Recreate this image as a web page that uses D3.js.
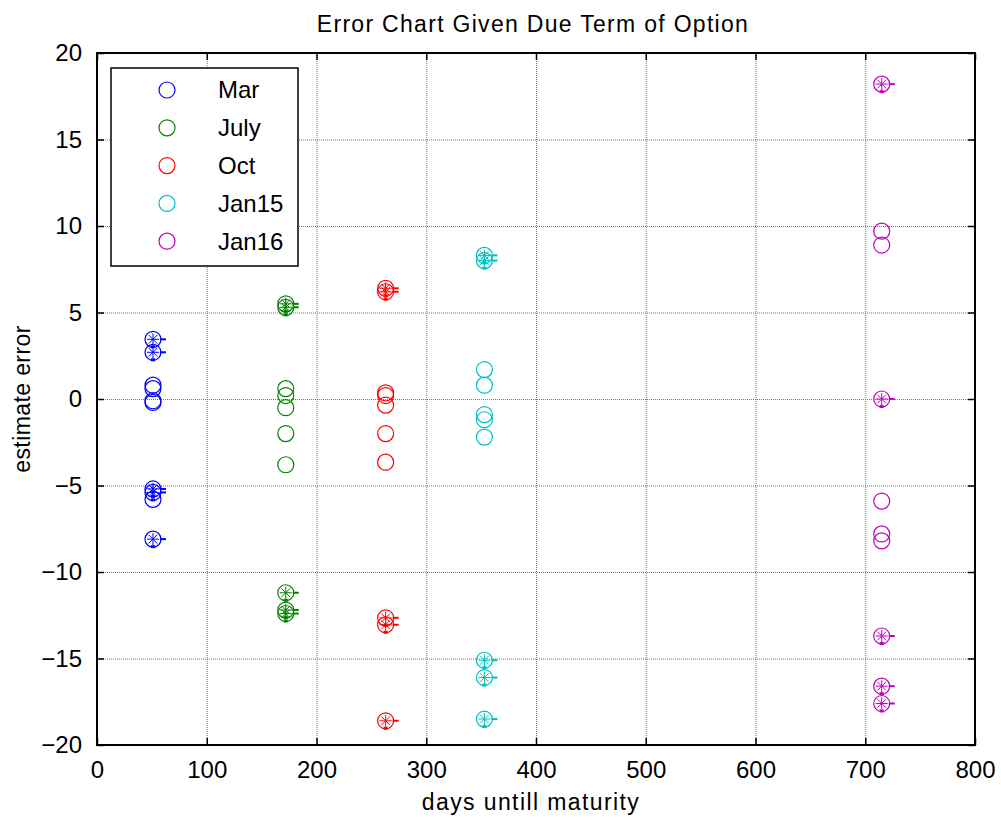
<!DOCTYPE html>
<html>
<head>
<meta charset="utf-8">
<script src="https://cdn.jsdelivr.net/npm/d3@7"></script>
<style>
  body { margin: 0; background: #fff; }
  text { font-family: "Liberation Sans", Arial, sans-serif; fill: #000; }
</style>
</head>
<body>
<div id="chart"></div>
<script>
// series data
var seriesNames = ["Mar", "July", "Oct", "Jan15", "Jan16"];
var seriesColors = ["#0000ff", "#008000", "#ff0000", "#00bfbf", "#bf00bf"];
var seriesDays = [51, 172, 263, 353, 715];

// plain circle markers
var circleErrors = [
  [0.8, 0.6, -0.1, -0.2, -5.8],
  [0.6, 0.2, -0.5, -2.0, -3.8],
  [0.35, 0.2, -0.35, -2.0, -3.65],
  [1.7, 0.8, -0.9, -1.2, -2.2],
  [9.7, 8.9, -5.9, -7.8, -8.2]
];

// circle + asterisk markers
var starErrors = [
  [3.45, 2.7, -5.2, -5.4, -8.1],
  [5.5, 5.3, -11.2, -12.2, -12.4],
  [6.4, 6.2, -12.65, -13.05, -18.6],
  [8.3, 8.0, -15.1, -16.1, -18.5],
  [18.2, 0.0, -13.7, -16.6, -17.6]
];

var xTicks = [0, 100, 200, 300, 400, 500, 600, 700, 800];
var yTicks = [-20, -15, -10, -5, 0, 5, 10, 15, 20];

function drawit() {
  var W = 1001, H = 820;
  var left = 97, right = 975, top = 53, bottom = 745;
  var tickLen = 7;

  var svg = d3.select("#chart").append("svg")
    .attr("width", W)
    .attr("height", H);

  var x = d3.scaleLinear().domain([0, 800]).range([left, right]);
  var y = d3.scaleLinear().domain([-20, 20]).range([bottom, top]);

  // grid
  var grid = svg.append("g");
  grid.selectAll(".gx").data(xTicks.slice(1, -1)).enter().append("line")
    .attr("x1", function(d) { return x(d) + 0.5; })
    .attr("x2", function(d) { return x(d) + 0.5; })
    .attr("y1", top).attr("y2", bottom)
    .attr("stroke", "#777").attr("stroke-width", 1)
    .attr("stroke-dasharray", "1,1");
  grid.selectAll(".gy").data(yTicks.slice(1, -1)).enter().append("line")
    .attr("y1", function(d) { return y(d) + 0.5; })
    .attr("y2", function(d) { return y(d) + 0.5; })
    .attr("x1", left).attr("x2", right)
    .attr("stroke", "#777").attr("stroke-width", 1)
    .attr("stroke-dasharray", "1,1");

  // axes: bottom/left with labels, top/right mirrored ticks, ticks inward
  var axB = d3.axisBottom(x).tickValues(xTicks).tickSize(-tickLen).tickPadding(tickLen + 9);
  var axL = d3.axisLeft(y).tickValues(yTicks).tickSize(-tickLen).tickPadding(tickLen + 8);
  var axT = d3.axisTop(x).tickValues(xTicks).tickSize(-tickLen).tickFormat("");
  var axR = d3.axisRight(y).tickValues(yTicks).tickSize(-tickLen).tickFormat("");

  function styleAxis(g) {
    g.select(".domain").remove();
    g.selectAll(".tick line").attr("stroke", "#000").attr("stroke-width", 1.5);
    g.selectAll(".tick text")
      .attr("fill", "#000")
      .style("font-family", "'Liberation Sans', Arial, sans-serif")
      .style("font-size", "24px");
  }
  svg.append("g").attr("transform", "translate(0," + bottom + ")").call(axB).call(styleAxis);
  svg.append("g").attr("transform", "translate(" + left + ",0)").call(axL).call(styleAxis);
  svg.append("g").attr("transform", "translate(0," + top + ")").call(axT).call(styleAxis);
  svg.append("g").attr("transform", "translate(" + right + ",0)").call(axR).call(styleAxis);

  // frame
  svg.append("rect")
    .attr("x", left).attr("y", top)
    .attr("width", right - left).attr("height", bottom - top)
    .attr("fill", "none").attr("stroke", "#000").attr("stroke-width", 2);

  // markers
  var r = 8;
  seriesNames.forEach(function(name, i) {
    var col = seriesColors[i];
    var g = svg.append("g");

    g.selectAll(".c").data(circleErrors[i]).enter().append("circle")
      .attr("cx", x(seriesDays[i]))
      .attr("cy", function(d) { return y(d); })
      .attr("r", r)
      .attr("fill", "none").attr("stroke", col).attr("stroke-width", 1.2);

    var s = g.selectAll(".s").data(starErrors[i]).enter().append("g")
      .attr("transform", function(d) {
        return "translate(" + x(seriesDays[i]) + "," + y(d) + ")";
      });
    s.append("circle").attr("r", r)
      .attr("fill", "none").attr("stroke", col).attr("stroke-width", 1.2);
    var a = 6, b = 4.3;
    var spokes = [[-a, 0, a, 0], [0, -a, 0, a], [-b, -b, b, b], [-b, b, b, -b]];
    spokes.forEach(function(p) {
      s.append("line")
        .attr("x1", p[0]).attr("y1", p[1]).attr("x2", p[2]).attr("y2", p[3])
        .attr("stroke", col).attr("stroke-width", 1);
    });
    s.append("line")
      .attr("x1", 7).attr("y1", 0).attr("x2", 13).attr("y2", 0)
      .attr("stroke", col).attr("stroke-width", 2);
    s.append("rect")
      .attr("x", -2).attr("y", 6).attr("width", 4).attr("height", 3)
      .attr("fill", col);
  });

  // legend
  var lx = 111, ly = 68, lw = 187, lh = 198;
  var leg = svg.append("g");
  leg.append("rect")
    .attr("x", lx).attr("y", ly).attr("width", lw).attr("height", lh)
    .attr("fill", "#fff").attr("stroke", "#000").attr("stroke-width", 1.5);
  var rows = leg.selectAll(".row").data(seriesNames).enter().append("g")
    .attr("transform", function(d, i) { return "translate(0," + (90 + i * 37.8) + ")"; });
  rows.append("circle")
    .attr("cx", 167).attr("cy", 0).attr("r", r)
    .attr("fill", "none")
    .attr("stroke", function(d, i) { return seriesColors[i]; })
    .attr("stroke-width", 1.2);
  rows.append("text")
    .attr("x", 218).attr("y", 0).attr("dy", "0.35em")
    .style("font-size", "24px")
    .text(function(d) { return d; });

  // titles
  svg.append("text")
    .attr("x", (left + right) / 2 - 3).attr("y", 32)
    .attr("text-anchor", "middle")
    .style("font-size", "23px")
    .style("letter-spacing", "1.3px")
    .text("Error Chart Given Due Term of Option");
  svg.append("text")
    .attr("x", (left + right) / 2 - 5).attr("y", 810)
    .attr("text-anchor", "middle")
    .style("font-size", "23px")
    .style("letter-spacing", "1.4px")
    .text("days untill maturity");
  svg.append("text")
    .attr("transform", "translate(30," + ((top + bottom) / 2) + ") rotate(-90)")
    .attr("text-anchor", "middle")
    .style("font-size", "23px")
    .style("letter-spacing", "0.4px")
    .text("estimate error");
}

drawit();
</script>
</body>
</html>
